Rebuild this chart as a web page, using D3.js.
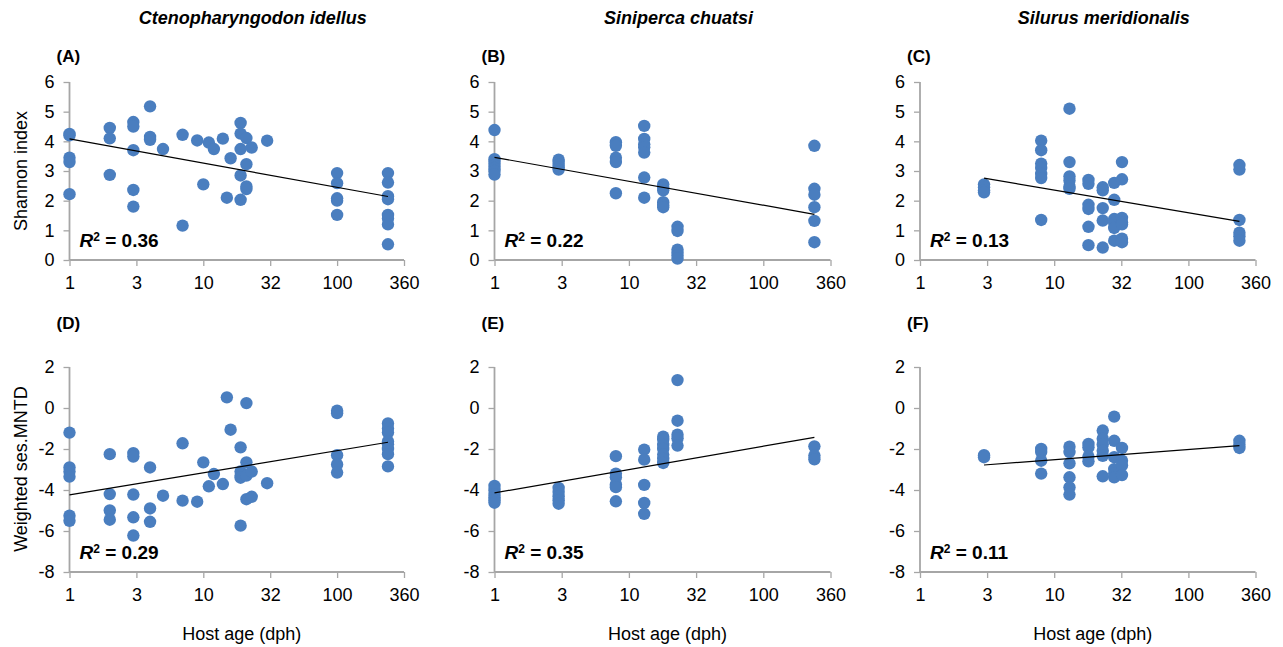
<!DOCTYPE html>
<html>
<head>
<meta charset="utf-8">
<script src="https://cdn.jsdelivr.net/npm/d3@7"></script>
<style>
  body { margin: 0; background: #fff; }
  svg text { font-family: "Liberation Sans", Arial, sans-serif; fill: #000; }
</style>
</head>
<body>
<svg id="chart" width="1283" height="647"></svg>
<script>
// x axis: host age (dph) on a log axis, ticks every half decade
const tickLabels = ['1', '3', '10', '32', '100', '360'];
const species = ['Ctenopharyngodon idellus', 'Siniperca chuatsi', 'Silurus meridionalis'];
const panelLetters = ['(A)', '(B)', '(C)', '(D)', '(E)', '(F)'];
const r2Labels = ['0.36', '0.22', '0.13', '0.29', '0.35', '0.11'];

// Shannon index, grouped by host age
const ageA = [1, 2, 3, 4, 5, 7, 9, 10, 11, 12, 14, 15, 16, 19, 21, 23, 30, 100, 240];
const shannonA = [
  [4.25, 4.2, 3.45, 3.3, 2.22], [4.45, 4.1, 2.87], [4.65, 4.5, 3.7, 2.36, 1.8],
  [5.18, 4.15, 4.05], [3.74], [4.22, 1.16], [4.03], [2.55], [3.96], [3.74], [4.09],
  [2.1], [3.43], [4.62, 4.26, 3.74, 2.85, 2.03], [4.11, 3.23, 2.48, 2.39], [3.79], [4.02],
  [2.93, 2.59, 2.08, 2.0, 1.52], [2.93, 2.61, 2.15, 2.05, 1.52, 1.4, 1.2, 0.53]
];
const ageB = [1, 3, 8, 13, 18, 23, 240];
const shannonB = [
  [4.38, 3.4, 3.3, 3.2, 3.1, 3.0, 2.88], [3.38, 3.3, 3.2, 3.12, 3.05],
  [3.97, 3.85, 3.45, 3.3, 2.25], [4.52, 4.08, 3.9, 3.8, 3.62, 2.78, 2.1],
  [2.55, 2.45, 2.35, 1.95, 1.85, 1.78], [1.12, 0.98, 0.35, 0.25, 0.15, 0.05],
  [3.85, 2.4, 2.2, 1.78, 1.32, 0.6]
];
const ageC = [3, 8, 13, 18, 23, 28, 32, 240];
const shannonC = [
  [2.55, 2.45, 2.35, 2.28], [4.02, 3.7, 3.25, 3.1, 2.9, 2.76, 1.35],
  [5.1, 3.3, 2.82, 2.68, 2.48, 2.4], [2.7, 2.57, 1.86, 1.72, 1.12, 0.5],
  [2.45, 2.35, 1.75, 1.33, 0.42], [2.6, 2.03, 1.38, 1.25, 1.08, 0.65],
  [3.3, 2.72, 1.42, 1.27, 1.2, 0.72, 0.6], [3.2, 3.05, 1.35, 0.92, 0.8, 0.65]
];

// Weighted ses.MNTD, grouped by host age
const ageD = ageA;
const mntdD = [
  [-1.2, -2.9, -3.1, -3.35, -5.25, -5.5], [-2.25, -4.2, -5.0, -5.45],
  [-2.2, -2.37, -4.22, -5.33, -6.22], [-2.9, -4.9, -5.55], [-4.28], [-1.72, -4.52],
  [-4.57], [-2.65], [-3.82], [-3.22], [-3.71], [0.52], [-1.06],
  [-1.92, -3.1, -3.3, -3.4, -5.74], [0.24, -2.65, -3.3, -4.45], [-3.1, -4.33], [-3.67],
  [-0.13, -0.25, -2.3, -2.75, -3.15], [-0.75, -1.0, -1.2, -1.63, -1.77, -2.0, -2.25, -2.85]
];
const ageE = ageB;
const mntdE = [
  [-3.8, -4.0, -4.2, -4.35, -4.5, -4.62], [-3.9, -4.1, -4.3, -4.5, -4.67],
  [-2.35, -3.2, -3.38, -3.73, -3.86, -4.55], [-2.03, -2.52, -3.75, -4.63, -5.16],
  [-1.4, -1.55, -1.8, -2.0, -2.27, -2.48, -2.68], [1.36, -0.62, -1.3, -1.48, -1.83],
  [-1.87, -2.32, -2.5]
];
const ageF = ageC;
const mntdF = [
  [-2.3, -2.4], [-2.0, -2.15, -2.57, -3.2], [-1.89, -2.15, -2.7, -3.38, -3.87, -4.22],
  [-1.75, -1.92, -2.37, -2.6], [-1.1, -1.5, -1.78, -2.08, -2.33, -3.33],
  [-0.42, -1.6, -2.4, -2.98, -3.2, -3.38], [-1.95, -2.57, -2.8, -3.27], [-1.6, -1.78, -1.95]
];

// trend lines: [age start, value start, age end, value end]
const trends = [
  [1, 4.08, 240, 2.14], [1, 3.46, 240, 1.54], [3, 2.76, 240, 1.3],
  [1, -4.24, 240, -1.67], [1, -4.14, 240, -1.43], [3, -2.78, 240, -1.84]
];

const panels = [
  [ageA, shannonA], [ageB, shannonB], [ageC, shannonC],
  [ageD, mntdD], [ageE, mntdE], [ageF, mntdF]
];

const svg = d3.select('#chart');
const colX = [[69.5, 404], [494.5, 830.5], [920, 1255.5]];
const rowY = [[260, 82], [572, 367]];
const yDomains = [[0, 6], [-8, 2]];
const yTicks = [d3.range(0, 7, 1), d3.range(-8, 3, 2)];
const blue = '#4a7ebf';
const axisGrey = '#a6a6a6';

panels.forEach((p, i) => {
  const col = i % 3, row = Math.floor(i / 3);
  const x = d3.scaleLog().domain([1, Math.pow(10, 2.5)]).range(colX[col]);
  const y = d3.scaleLinear().domain(yDomains[row]).range(rowY[row]);
  const g = svg.append('g');

  const xAxis = d3.axisBottom(x)
    .tickValues([0, 0.5, 1, 1.5, 2, 2.5].map(e => Math.pow(10, e)))
    .tickFormat((d, k) => tickLabels[k])
    .tickSize(6).tickPadding(10);
  const gx = g.append('g').attr('transform', `translate(0,${rowY[row][0]})`).call(xAxis);

  // plain hyphen for negatives, as in the original
  const yAxis = d3.axisLeft(y).tickValues(yTicks[row]).tickFormat(d => String(d))
    .tickSize(6).tickPadding(9);
  const gy = g.append('g').attr('transform', `translate(${colX[col][0]},0)`).call(yAxis);

  [gx, gy].forEach(a => {
    a.select('.domain').attr('stroke', axisGrey).attr('stroke-width', 1.8);
    a.selectAll('.tick line').attr('stroke', axisGrey).attr('stroke-width', 1.3);
    a.selectAll('.tick text').attr('font-size', 18).attr('fill', '#000');
  });
  gx.select('.domain').attr('d', `M${colX[col][0]},0H${colX[col][1]}`);
  gy.select('.domain').attr('d', `M0,${rowY[row][0]}V${rowY[row][1]}`);

  // points
  const pts = [];
  p[0].forEach((age, k) => p[1][k].forEach(v => pts.push([age, v])));
  g.selectAll('circle').data(pts).enter().append('circle')
    .attr('cx', d => x(d[0])).attr('cy', d => y(d[1]))
    .attr('r', 6.2).attr('fill', blue);

  // trend line
  const t = trends[i];
  g.append('line')
    .attr('x1', x(t[0])).attr('y1', y(t[1]))
    .attr('x2', x(t[2])).attr('y2', y(t[3]))
    .attr('stroke', '#000').attr('stroke-width', 1.2);

  // R2 label
  const r2 = g.append('text')
    .attr('x', colX[col][0] + 10).attr('y', rowY[row][0] - 13)
    .attr('font-size', 19).attr('font-weight', 'bold');
  r2.append('tspan').attr('font-style', 'italic').text('R');
  r2.append('tspan').attr('font-size', 12).attr('dy', -6).text('2');
  r2.append('tspan').attr('dy', 6).text(' = ' + r2Labels[i]);

  // panel letter
  g.append('text')
    .attr('x', colX[col][0] - 13).attr('y', row === 0 ? 62 : 329)
    .attr('font-size', 17).attr('font-weight', 'bold').text(panelLetters[i]);

  if (row === 1) {
    g.append('text')
      .attr('x', (colX[col][0] + colX[col][1]) / 2 + 5).attr('y', 640)
      .attr('text-anchor', 'middle').attr('font-size', 18).text('Host age (dph)');
  } else {
    g.append('text')
      .attr('x', (colX[col][0] + colX[col][1]) / 2 + 16).attr('y', 24)
      .attr('text-anchor', 'middle').attr('font-size', 18)
      .attr('font-weight', 'bold').attr('font-style', 'italic').text(species[col]);
  }
});

// y axis titles
[['Shannon index', 171], ['Weighted ses.MNTD', 469]].forEach(d => {
  svg.append('text')
    .attr('transform', `translate(27,${d[1]}) rotate(-90)`)
    .attr('text-anchor', 'middle').attr('font-size', 18).text(d[0]);
});
</script>
</body>
</html>
